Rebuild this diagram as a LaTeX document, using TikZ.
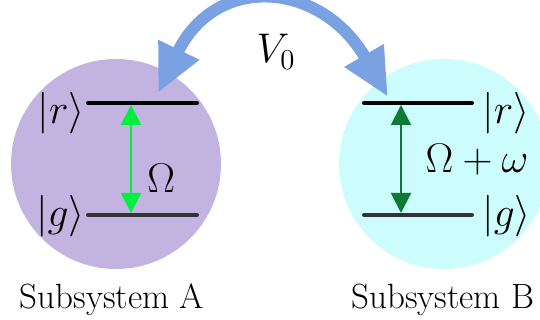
\documentclass[tikz,border=0pt]{standalone}
\usetikzlibrary{arrows.meta}
\definecolor{purpA}{HTML}{C3B3E0}
\definecolor{cyanB}{HTML}{CCFCFC}
\definecolor{bluearr}{HTML}{7AA2E3}
\definecolor{brightgreen}{HTML}{00F040}
\definecolor{darkgreen}{HTML}{0B7A35}
\definecolor{darkgray}{HTML}{333333}
\tikzset{
  sub/.style={circle, inner sep=0pt, minimum size=105pt},
  lvl/.style={line width=2pt, line cap=round},
  mathlbl/.style={inner sep=0pt, font=\fontsize{21}{24}\selectfont},
  txtlbl/.style={inner sep=0pt, font=\rmfamily\fontsize{17.5}{20}\selectfont},
  trans/.style={line width=1pt, {Triangle[length=10pt,width=10pt]}-{Triangle[length=10pt,width=10pt]}},
  coupling/.style={draw=bluearr, line width=6pt,
    {Triangle[length=24pt,width=21pt]}-{Triangle[length=24pt,width=21pt]}}
}
\begin{document}
\begin{tikzpicture}[x=0.5pt,y=-0.5pt]
\useasboundingbox (0,0) rectangle (540,320);
\begin{scope}
\clip (0,0) rectangle (540,320);
\node[sub, fill=purpA] (A) at (116,164) {};
\node[sub, fill=cyanB] (B) at (444,164) {};
\end{scope}
% levels A
\coordinate (Ar1) at (88,103); \coordinate (Ar2) at (197,103);
\coordinate (Ag1) at (88,215); \coordinate (Ag2) at (197,215);
\draw[lvl, black] (Ar1) -- (Ar2);
\draw[lvl, darkgray] (Ag1) -- (Ag2);
% levels B
\coordinate (Br1) at (364,103); \coordinate (Br2) at (472,103);
\coordinate (Bg1) at (364,215); \coordinate (Bg2) at (472,215);
\draw[lvl, black] (Br1) -- (Br2);
\draw[lvl, darkgray] (Bg1) -- (Bg2);
% transitions
\coordinate (At) at (131,105); \coordinate (Ab) at (131,213);
\coordinate (Bt) at (401,105); \coordinate (Bb) at (401,213);
\draw[trans, brightgreen] (At) -- (Ab);
\draw[trans, darkgreen] (Bt) -- (Bb);
% labels
\node[mathlbl, anchor=base east] (Arl) at (85,124) {$|r\rangle$};
\node[mathlbl, anchor=base east] (Agl) at (85,227) {$|g\rangle$};
\node[mathlbl, anchor=base west] (Brl) at (482,124) {$|r\rangle$};
\node[mathlbl, anchor=base west] (Bgl) at (482,227) {$|g\rangle$};
\node[mathlbl, anchor=base west] (Om) at (147,192) {$\Omega$};
\node[mathlbl, anchor=base] (Omw) at (477,173) {$\Omega+\omega$};
\node[mathlbl, anchor=base] (V) at (276,63) {$V_0$};
% coupling
\coordinate (tipA) at (158,93);
\coordinate (tipB) at (388,97);
\draw[coupling] (tipA) .. controls (216,-27) and (321,-19) .. (tipB);
% captions
\node[txtlbl, anchor=base] (capA) at (112,308) {Subsystem A};
\node[txtlbl, anchor=base] (capB) at (443,308) {Subsystem B};
\end{tikzpicture}
\end{document}
